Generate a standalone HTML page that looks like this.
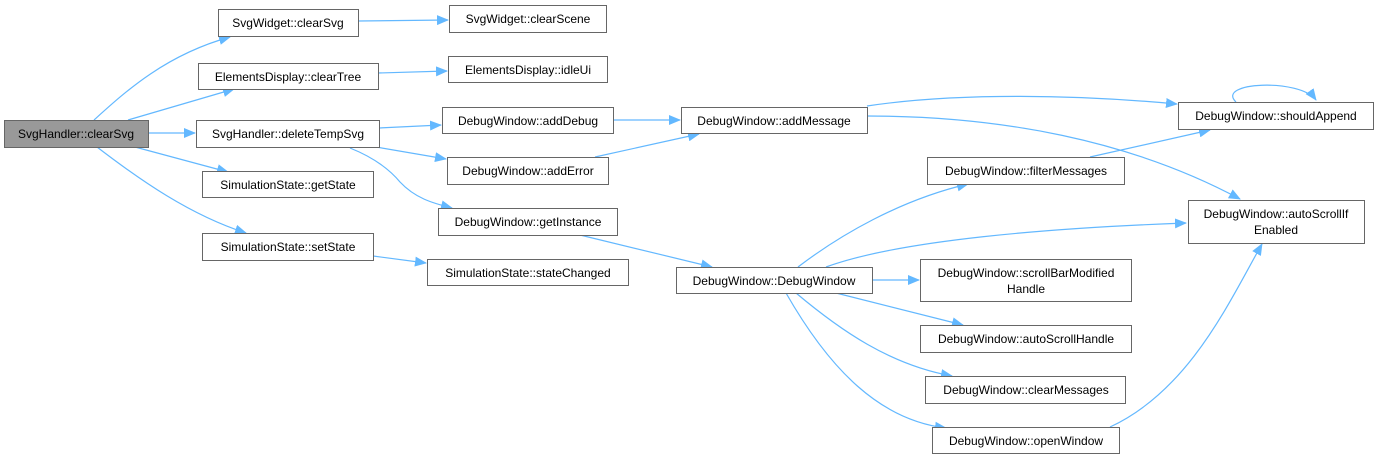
<!DOCTYPE html>
<html><head><meta charset="utf-8"><style>
html,body{margin:0;padding:0;background:#fff;}
svg{display:block;}
text{font-family:"Liberation Sans",Arial,sans-serif;font-size:12px;fill:#000;}
</style></head><body>
<svg width="1379" height="459" viewBox="0 0 1379 459" xmlns="http://www.w3.org/2000/svg">
<defs>
<marker id="a" markerWidth="12" markerHeight="10" refX="11" refY="5" orient="auto" markerUnits="userSpaceOnUse">
<path d="M0,0 L12,5 L0,10 Z" fill="#63b8ff"/>
</marker>
</defs>
<g fill="none" stroke="#63b8ff" stroke-width="1.2" marker-end="url(#a)">
<path d="M94,120 C125,92 165,55 230,37"/>
<path d="M128,120 L234,89"/>
<path d="M149,133 L195,133"/>
<path d="M135,147 L228,172"/>
<path d="M97,147 C140,180 190,215 246,233"/>
<path d="M358,21 L448,20"/>
<path d="M378,73 L447,71"/>
<path d="M379,128 L441,125"/>
<path d="M376,147 L446,159"/>
<path d="M350,148 C375,158 390,170 400,182 C415,198 432,203 452,208"/>
<path d="M613,120 L680,120"/>
<path d="M595,157 L699,134"/>
<path d="M580,235 L712,267"/>
<path d="M373,256 L426,263"/>
<path d="M867,106 C960,92 1080,95 1177,104"/>
<path d="M867,116 C1000,116 1130,140 1240,199"/>
<path d="M1236,102 C1215,82 1300,78 1316,100"/>
<path d="M1090,157 L1210,130"/>
<path d="M798,267 C840,235 900,200 968,184"/>
<path d="M826,267 C900,240 1050,228 1186,223"/>
<path d="M872,280 L919,280"/>
<path d="M836,293 L963,325"/>
<path d="M796,293 C840,330 890,365 952,376"/>
<path d="M786,293 C830,370 880,420 946,428"/>
<path d="M1110,427 C1190,390 1230,300 1262,244"/>
</g>
<g stroke="#666" stroke-width="1" fill="#fff">
<rect x="4.5" y="120.5" width="144" height="27" fill="#999"/>
<rect x="218.5" y="9.5" width="140" height="27"/>
<rect x="449.5" y="5.5" width="157" height="27"/>
<rect x="198.5" y="63.5" width="180" height="26"/>
<rect x="448.5" y="56.5" width="159" height="26"/>
<rect x="196.5" y="120.5" width="183" height="27"/>
<rect x="442.5" y="107.5" width="171" height="26"/>
<rect x="447.5" y="157.5" width="161" height="27"/>
<rect x="202.5" y="171.5" width="171" height="26"/>
<rect x="438.5" y="208.5" width="179" height="27"/>
<rect x="202.5" y="233.5" width="171" height="27"/>
<rect x="427.5" y="259.5" width="201" height="26"/>
<rect x="681.5" y="107.5" width="186" height="26"/>
<rect x="1178.5" y="102.5" width="195" height="27"/>
<rect x="927.5" y="157.5" width="197" height="27"/>
<rect x="1188.5" y="200.5" width="176" height="43"/>
<rect x="676.5" y="267.5" width="196" height="26"/>
<rect x="920.5" y="259.5" width="211" height="42"/>
<rect x="920.5" y="325.5" width="211" height="27"/>
<rect x="925.5" y="376.5" width="200" height="27"/>
<rect x="932.5" y="427.5" width="187" height="26"/>
</g>
<g text-anchor="middle">
<text x="76" y="138">SvgHandler::clearSvg</text>
<text x="288" y="27">SvgWidget::clearSvg</text>
<text x="528" y="23">SvgWidget::clearScene</text>
<text x="288" y="81">ElementsDisplay::clearTree</text>
<text x="528" y="74">ElementsDisplay::idleUi</text>
<text x="288" y="138">SvgHandler::deleteTempSvg</text>
<text x="528" y="125">DebugWindow::addDebug</text>
<text x="528" y="175">DebugWindow::addError</text>
<text x="288" y="189">SimulationState::getState</text>
<text x="528" y="226">DebugWindow::getInstance</text>
<text x="288" y="251">SimulationState::setState</text>
<text x="528" y="277">SimulationState::stateChanged</text>
<text x="774" y="125">DebugWindow::addMessage</text>
<text x="1276" y="120">DebugWindow::shouldAppend</text>
<text x="1026" y="175">DebugWindow::filterMessages</text>
<text x="1276" y="218">DebugWindow::autoScrollIf</text>
<text x="1276" y="234">Enabled</text>
<text x="774" y="285">DebugWindow::DebugWindow</text>
<text x="1026" y="277">DebugWindow::scrollBarModified</text>
<text x="1026" y="293">Handle</text>
<text x="1026" y="343">DebugWindow::autoScrollHandle</text>
<text x="1026" y="394">DebugWindow::clearMessages</text>
<text x="1026" y="445">DebugWindow::openWindow</text>
</g>
</svg>
</body></html>
